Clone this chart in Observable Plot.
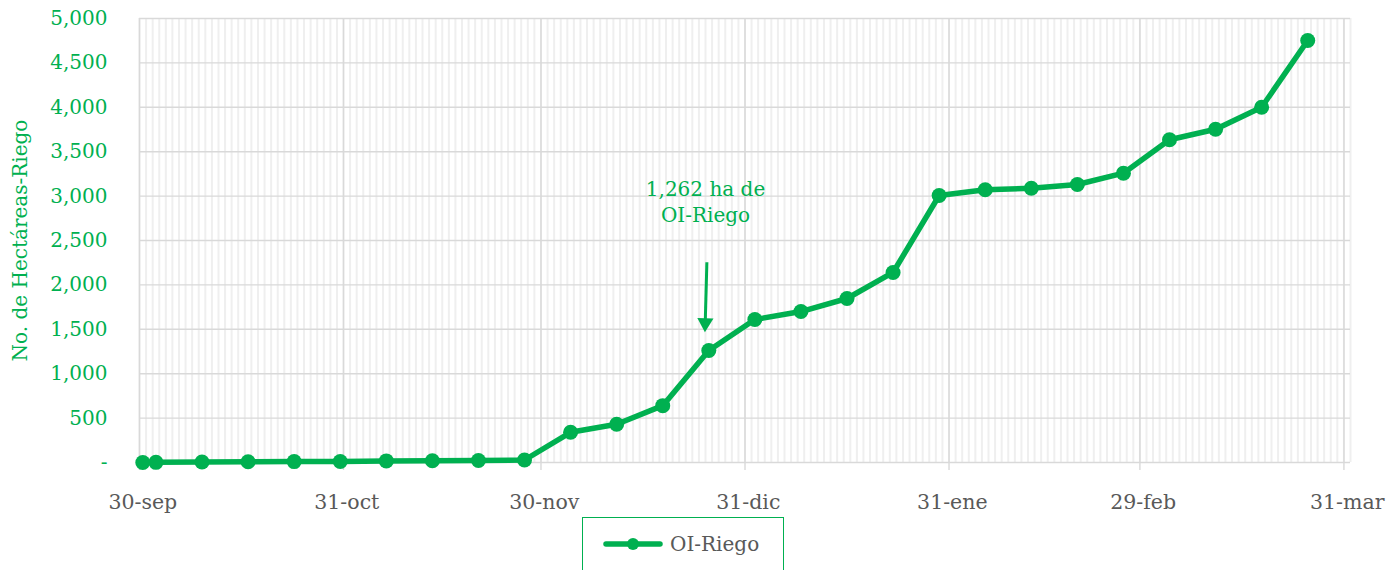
<!DOCTYPE html>
<html>
<head>
<meta charset="utf-8">
<script src="https://cdn.jsdelivr.net/npm/d3@7"></script>
<script src="https://cdn.jsdelivr.net/npm/@observablehq/plot@0.6"></script>
<style>
  html, body { margin: 0; padding: 0; background: #fff; width: 1390px; height: 570px; overflow: hidden; font-family: "DejaVu Serif", serif; }
  #chart { position: absolute; left: 0; top: 0; }
  #legend { position: absolute; left: 582px; top: 517px; width: 200px; height: 70px; border: 1.5px solid #00B050; background: #fff; }
</style>
</head>
<body>
<div id="chart"></div>
<div id="legend"></div>
<script>
// ---- data ----
const dates = ["2023-09-30","2023-10-02","2023-10-09","2023-10-16","2023-10-23","2023-10-30",
  "2023-11-06","2023-11-13","2023-11-20","2023-11-27","2023-12-04","2023-12-11","2023-12-18",
  "2023-12-25","2024-01-01","2024-01-08","2024-01-15","2024-01-22","2024-01-29","2024-02-05",
  "2024-02-12","2024-02-19","2024-02-26","2024-03-04","2024-03-11","2024-03-18","2024-03-25"];
const values = [0, 2, 5, 8, 10, 12, 18, 20, 22, 28, 340, 430, 640, 1262, 1610, 1700, 1847, 2140,
  3007, 3071, 3089, 3131, 3258, 3634, 3753, 4001, 4752];
const seriesName = "OI-Riego";
const monthTicks = ["2023-09-30","2023-10-31","2023-11-30","2023-12-31","2024-01-31","2024-02-29","2024-03-31"];
const monthLabels = ["30-sep","31-oct","30-nov","31-dic","31-ene","29-feb","31-mar"];
const yTicks = [0, 500, 1000, 1500, 2000, 2500, 3000, 3500, 4000, 4500, 5000];
const yLabel = "No. de Hectáreas-Riego";
const annotText = ["1,262 ha de\nOI-Riego"];
const annotAt = [{date: "2023-12-25T00:00", value: 2950}];
const arrowFrom = [{date: "2023-12-25T05:00", value: 2256}];
const arrowTo = [{date: "2023-12-24T23:00", value: 1572}];

const green = "#00B050";
const gray = "#595959";
const P = s => new Date(s.length === 10 ? s + "T00:00Z" : s + "Z");
const halfDay = 12 * 3600 * 1000;
const mid = s => new Date(P(s).getTime() + halfDay);

const data = dates.map((d, i) => ({date: mid(d), value: values[i]}));
const domainStart = P("2023-09-30"), domainEnd = P("2024-04-01");
const days = d3.utcDay.range(domainStart, new Date(domainEnd.getTime() + 1));
const majors = monthTicks.map(P);
const labelPos = monthTicks.map(mid);
const labelMap = new Map(labelPos.map((d, i) => [+d, monthLabels[i]]));

const chart = Plot.plot({
  width: 1390,
  height: 512,
  marginLeft: 139,
  marginRight: 40,
  marginTop: 18,
  marginBottom: 50,
  style: {fontFamily: "DejaVu Serif, serif", fontSize: "20px", background: "#fff", overflow: "visible"},
  x: {type: "utc", domain: [domainStart, domainEnd]},
  y: {domain: [0, 5000]},
  marks: [
    Plot.ruleX(days, {stroke: "#efefef", strokeWidth: 2}),
    Plot.ruleY(yTicks, {stroke: "#d9d9d9", strokeWidth: 1.4}),
    Plot.ruleX(majors, {stroke: "#d9d9d9", strokeWidth: 1.4}),
    Plot.axisX({ticks: majors, tickSize: 8, stroke: "#d9d9d9", strokeWidth: 1.4, tickFormat: () => "", label: null}),
    Plot.axisX({ticks: labelPos, tickSize: 0, tickPadding: 32, tickFormat: d => labelMap.get(+d), fill: gray, fontSize: 20.5, label: null}),
    Plot.axisY({ticks: yTicks, tickSize: 0, tickPadding: 32, fill: green, fontSize: 20,
      tickFormat: d => d === 0 ? "-" : d3.format(",")(d), label: null}),
    Plot.text([yLabel], {frameAnchor: "left", dx: -119, rotate: -90, textAnchor: "middle", fill: green, fontSize: 20, text: d => d}),
    Plot.line(data, {x: "date", y: "value", stroke: green, strokeWidth: 5.5, strokeLinejoin: "round", strokeLinecap: "round"}),
    Plot.dot(data, {x: "date", y: "value", r: 7.5, fill: green, stroke: "none"}),
    Plot.text(annotText, {x: () => P(annotAt[0].date), y: () => annotAt[0].value, text: d => d, fill: green, fontSize: 20, lineHeight: 1.3}),
    Plot.link([0], {x1: () => P(arrowFrom[0].date), y1: () => arrowFrom[0].value,
      x2: () => P(arrowTo[0].date), y2: () => arrowTo[0].value, stroke: green, strokeWidth: 3}),
    Plot.dot([0], {x: () => P(arrowTo[0].date), y: () => arrowTo[0].value, symbol: "triangle", r: 6, rotate: 182, fill: green, stroke: "none"})
  ]
});
document.getElementById("chart").appendChild(chart);

// legend
const lg = d3.select("#legend").append("svg").attr("width", 200).attr("height", 60);
lg.append("line").attr("x1", 23).attr("x2", 77).attr("y1", 26).attr("y2", 26)
  .attr("stroke", green).attr("stroke-width", 5.5).attr("stroke-linecap", "round");
lg.append("circle").attr("cx", 50).attr("cy", 26).attr("r", 6).attr("fill", green);
lg.append("text").attr("x", 87).attr("y", 26).attr("dy", "0.35em").attr("fill", gray)
  .attr("font-size", 20).attr("font-family", "DejaVu Serif, serif").text(seriesName);
</script>
</body>
</html>
